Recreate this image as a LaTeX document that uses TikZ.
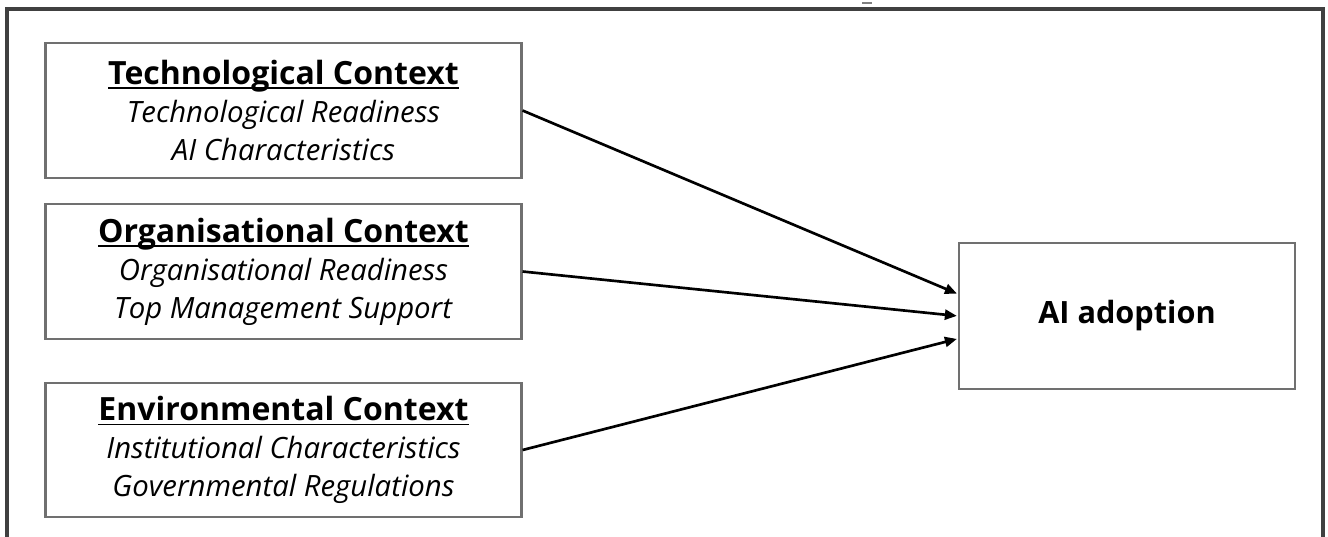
\documentclass[tikz,border=0pt]{standalone}
\usepackage{fontspec}
\setmainfont{Open Sans}
\usetikzlibrary{arrows.meta}
\definecolor{framegray}{HTML}{404040}
\definecolor{boxgray}{HTML}{707070}
\tikzset{
  ctxbox/.style={draw=boxgray, line width=1.6pt, minimum width=357pt, minimum height=101pt,
    inner sep=0pt, align=center, font=\fontsize{22}{28.5}\selectfont},
  outbox/.style={draw=boxgray, line width=1.6pt, minimum width=252pt, minimum height=109.5pt,
    inner sep=0pt, font=\fontsize{23}{28}\selectfont\bfseries},
  link/.style={line width=2pt, black, -{Triangle[length=9pt, width=7.5pt]}, shorten >=0.8pt}
}
% bold heading with a rule set just under the baseline
\newsavebox{\headbox}
\newcommand{\ctxhead}[1]{{\fontsize{24}{28.5}\selectfont\bfseries
  \sbox{\headbox}{#1}\rlap{\vrule width\wd\headbox height -2.2pt depth 3.4pt}\usebox{\headbox}}}
\begin{document}
\begin{tikzpicture}[x=0.75pt, y=-0.75pt]
  \useasboundingbox (0,0) rectangle (1328,536);
  \fill[white] (0,0) rectangle (1328,536);
  \begin{scope}
    \clip (0,0) rectangle (1328,536);
    % outer frame, running past the lower edge
    \draw[framegray, line width=2.4pt] (7,560) -- (7,9) -- (1323,9) -- (1323,560);
  \end{scope}
  \draw[gray, line width=1.5pt] (862,3) -- (872,3);

  % context boxes
  \node[ctxbox] (tech) at (283.5,110.5)
    {\ctxhead{Technological Context}\\ \textit{Technological Readiness}\\ \textit{AI Characteristics}};
  \node[ctxbox] (org) at (283.5,271.5)
    {\ctxhead{Organisational Context}\\ \textit{Organisational Readiness}\\ \textit{Top Management Support}};
  \node[ctxbox] (env) at (283.5,450)
    {\ctxhead{Environmental Context}\\ \textit{Institutional Characteristics}\\ \textit{Governmental Regulations}};

  % outcome box
  \node[outbox] (ai) at (1127,316) {AI adoption};

  % influences
  \draw[link] (tech.east) -- ([yshift=16.5pt]ai.west);
  \draw[link] (org.east) -- (ai.west);
  \draw[link] (env.east) -- ([yshift=-17pt]ai.west);
\end{tikzpicture}
\end{document}
